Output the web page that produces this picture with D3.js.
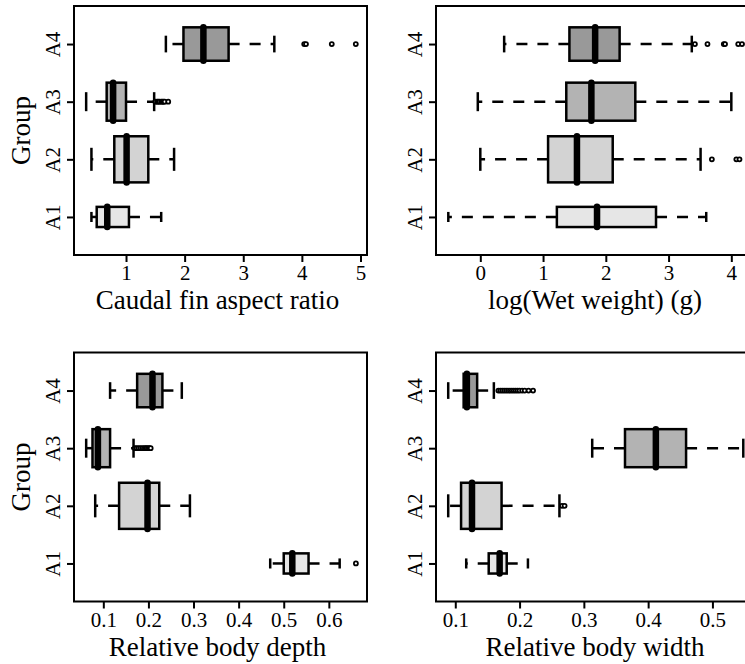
<!DOCTYPE html>
<html>
<head>
<meta charset="utf-8">
<script src="https://cdn.jsdelivr.net/npm/d3@7"></script>
<style>
  html, body { margin: 0; padding: 0; background: #ffffff; }
  svg { display: block; font-family: "Liberation Serif", "DejaVu Serif", serif; }
</style>
</head>
<body>
<div id="chart"></div>
<script>
// ---------- data ----------
const groups = ["A1", "A2", "A3", "A4"];
// relative box widths (varwidth) per group
const boxWidths = [0.35, 0.8, 0.66, 0.58];

// five-number stats [lower whisker, Q1, median, Q3, upper whisker] per group A1..A4
const caudalStats = [
  [0.41, 0.50, 0.68, 1.05, 1.60],
  [0.41, 0.80, 1.01, 1.38, 1.82],
  [0.32, 0.67, 0.78, 1.00, 1.48],
  [1.68, 1.98, 2.32, 2.75, 3.53]
];
const caudalOutliers = [
  [], [],
  [1.50, 1.53, 1.55, 1.57, 1.60, 1.62, 1.64, 1.66, 1.72],
  [4.04, 4.07, 4.51, 4.92]
];

const weightStats = [
  [-0.51, 1.22, 1.86, 2.80, 3.60],
  [0.00, 1.08, 1.54, 2.11, 3.51],
  [-0.04, 1.37, 1.77, 2.47, 4.00],
  [0.38, 1.42, 1.83, 2.22, 3.37]
];
const weightOutliers = [
  [],
  [3.69, 4.08, 4.13],
  [],
  [3.42, 3.62, 3.88, 3.90, 4.11, 4.17, 4.26]
];

const depthStats = [
  [0.470, 0.500, 0.519, 0.555, 0.624],
  [0.082, 0.135, 0.198, 0.224, 0.292],
  [0.062, 0.076, 0.088, 0.115, 0.167],
  [0.115, 0.175, 0.209, 0.231, 0.274]
];
const depthOutliers = [
  [0.660],
  [],
  [0.170, 0.174, 0.178, 0.182, 0.186, 0.190, 0.193, 0.196, 0.199, 0.202, 0.205],
  []
];

const widthStats = [
  [0.117, 0.152, 0.169, 0.180, 0.213],
  [0.089, 0.109, 0.126, 0.172, 0.262],
  [0.313, 0.364, 0.412, 0.459, 0.548],
  [0.089, 0.113, 0.118, 0.134, 0.160]
];
const widthOutliers = [
  [],
  [0.266, 0.270],
  [],
  [0.167, 0.170, 0.173, 0.176, 0.179, 0.182, 0.185, 0.188, 0.191, 0.194, 0.197, 0.200, 0.204, 0.208, 0.214, 0.221]
];

const caudalTicks = [1, 2, 3, 4, 5];
const weightTicks = [0, 1, 2, 3, 4];
const depthTicks = [0.1, 0.2, 0.3, 0.4, 0.5, 0.6];
const widthTicks = [0.1, 0.2, 0.3, 0.4, 0.5];

// ---------- styles ----------
const groupFills = ["#e6e6e6", "#d3d3d3", "#b3b3b3", "#999999"];
const W = 745, H = 664;

const panels = [
  { title: "Caudal fin aspect ratio", stats: caudalStats, out: caudalOutliers, ticks: caudalTicks,
    domain: [0.1126, 5.111], x0: 74, x1: 367, y0: 6, y1: 255, ylab: true },
  { title: "log(Wet weight) (g)", stats: weightStats, out: weightOutliers, ticks: weightTicks,
    domain: [-0.706, 4.457], x0: 436, x1: 760, y0: 6, y1: 255, ylab: false },
  { title: "Relative body depth", stats: depthStats, out: depthOutliers, ticks: depthTicks,
    domain: [0.035, 0.6846], x0: 74, x1: 367, y0: 352.5, y1: 601.5, ylab: true },
  { title: "Relative body width", stats: widthStats, out: widthOutliers, ticks: widthTicks,
    domain: [0.07, 0.574], x0: 436, x1: 760, y0: 352.5, y1: 601.5, ylab: false }
];

const svg = d3.select("#chart").append("svg")
  .attr("width", W).attr("height", H)
  .attr("viewBox", `0 0 ${W} ${H}`);
svg.append("rect").attr("width", W).attr("height", H).attr("fill", "#fff");

const fmt = v => (Math.abs(v - Math.round(v)) < 1e-9 ? d3.format("d")(v) : d3.format(".1f")(v));

panels.forEach(p => {
  const x = d3.scaleLinear().domain(p.domain).range([p.x0, p.x1]);
  const y = d3.scaleLinear().domain([0.34, 4.66]).range([p.y1, p.y0]);
  const g = svg.append("g");

  // x axis
  const xa = g.append("g").attr("transform", `translate(0,${p.y1})`)
    .call(d3.axisBottom(x).tickValues(p.ticks).tickFormat(fmt).tickSize(7).tickPadding(3));
  xa.select(".domain").remove();
  xa.selectAll(".tick line").attr("stroke", "#000").attr("stroke-width", 2);
  xa.selectAll(".tick text").attr("font-size", 21).attr("fill", "#000")
    .attr("font-family", "Liberation Serif").attr("dy", null).attr("y", 25);

  // y axis
  const ya = g.append("g").attr("transform", `translate(${p.x0},0)`)
    .call(d3.axisLeft(y).tickValues([1, 2, 3, 4]).tickFormat((d, i) => groups[i]).tickSize(7));
  ya.select(".domain").remove();
  ya.selectAll(".tick line").attr("stroke", "#000").attr("stroke-width", 2);
  ya.selectAll(".tick text")
    .attr("font-size", 21).attr("fill", "#000").attr("font-family", "Liberation Serif")
    .attr("x", null).attr("dy", null).attr("y", null)
    .attr("text-anchor", "middle")
    .attr("transform", "translate(-14.5,0) rotate(-90)");

  // boxes
  p.stats.forEach((s, i) => {
    const cy = y(i + 1);
    const hw = (y(0) - y(boxWidths[i])) / 2;
    const bg = g.append("g");
    // whiskers (dashed)
    bg.append("line").attr("x1", x(s[1])).attr("x2", x(s[0])).attr("y1", cy).attr("y2", cy)
      .attr("stroke", "#000").attr("stroke-width", 2.5).attr("stroke-dasharray", "11,10");
    bg.append("line").attr("x1", x(s[3])).attr("x2", x(s[4])).attr("y1", cy).attr("y2", cy)
      .attr("stroke", "#000").attr("stroke-width", 2.5).attr("stroke-dasharray", "11,10");
    // staples
    [s[0], s[4]].forEach(v => {
      bg.append("line").attr("x1", x(v)).attr("x2", x(v))
        .attr("y1", cy - hw / 2).attr("y2", cy + hw / 2)
        .attr("stroke", "#000").attr("stroke-width", 2.5);
    });
    // box
    bg.append("rect").attr("x", x(s[1])).attr("y", cy - hw)
      .attr("width", x(s[3]) - x(s[1])).attr("height", 2 * hw)
      .attr("fill", groupFills[i]).attr("stroke", "#000").attr("stroke-width", 2.5);
    // median
    bg.append("line").attr("x1", x(s[2])).attr("x2", x(s[2]))
      .attr("y1", cy - hw).attr("y2", cy + hw)
      .attr("stroke", "#000").attr("stroke-width", 6.5).attr("stroke-linecap", "round");
    // outliers
    bg.selectAll("circle.o").data(p.out[i]).enter().append("circle")
      .attr("class", "o")
      .attr("cx", d => x(d)).attr("cy", cy).attr("r", 2)
      .attr("fill", "#fff").attr("stroke", "#000").attr("stroke-width", 1.8);
  });

  // frame
  g.append("rect").attr("x", p.x0).attr("y", p.y0)
    .attr("width", p.x1 - p.x0).attr("height", p.y1 - p.y0)
    .attr("fill", "none").attr("stroke", "#000").attr("stroke-width", 2);

  // x title
  g.append("text").attr("x", (p.x0 + p.x1) / 2 - 3).attr("y", p.y1 + 54)
    .attr("text-anchor", "middle").attr("font-size", 27).attr("fill", "#000")
    .text(p.title);

  // y title
  if (p.ylab) {
    g.append("text")
      .attr("transform", `translate(${p.x0 - 44},${(p.y0 + p.y1) / 2}) rotate(-90)`)
      .attr("text-anchor", "middle").attr("font-size", 27).attr("fill", "#000")
      .text("Group");
  }
});
</script>
</body>
</html>
